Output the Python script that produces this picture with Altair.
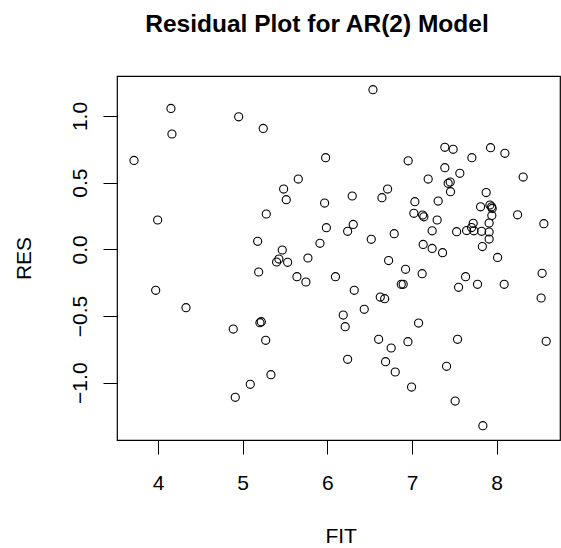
import altair as alt
import pandas as pd

fit = [3.717, 3.996, 3.973, 4.153, 4.165, 4.331, 4.953, 4.889, 4.913, 5.090,
       5.177, 5.189, 5.204, 5.220, 5.243, 5.272, 5.279, 5.334, 5.401, 5.428,
       5.468, 5.484, 5.515, 5.531, 5.657, 5.641, 5.747, 5.771, 5.913, 5.968,
       5.980, 5.989, 6.096, 6.188, 6.211, 6.240, 6.240, 6.306, 6.294, 6.318,
       6.436, 6.519, 6.539, 6.606, 6.625, 6.677, 6.645, 6.712, 6.688, 6.724,
       6.754, 6.790, 6.802, 6.873, 6.896, 6.924, 6.952, 6.955, 6.995, 7.022,
       7.034, 7.078, 7.120, 7.125, 7.140, 7.132, 7.191, 7.238, 7.238, 7.297,
       7.309, 7.361, 7.388, 7.388, 7.408, 7.427, 7.451, 7.455, 7.486, 7.510,
       7.527, 7.538, 7.550, 7.565, 7.633, 7.645, 7.704, 7.723, 7.731, 7.707,
       7.774, 7.810, 7.822, 7.831, 7.837, 7.876, 7.911, 7.911, 7.911, 7.920,
       7.940, 7.947, 7.943, 7.928, 8.011, 8.089, 8.097, 8.247, 8.313, 8.525,
       8.537, 8.557, 8.585]

res = [0.667, 0.220, -0.307, 1.057, 0.865, -0.438, 0.994, -0.598, -1.110, -1.012,
       0.060, -0.170, -0.550, -0.543, 0.907, -0.682, 0.265, -0.940, -0.095, -0.073,
       -0.005, 0.452, 0.372, -0.097, 0.527, -0.205, -0.245, -0.065, 0.045, 0.347,
       0.687, 0.162, -0.205, -0.493, -0.580, 0.135, -0.825, 0.187, 0.400, -0.307,
       -0.450, 0.075, 1.197, -0.675, -0.358, -0.370, 0.387, 0.452, -0.843, -0.084,
       -0.740, 0.117, -0.920, -0.262, -0.262, -0.150, -0.693, 0.664, -1.033, 0.270,
       0.357, -0.553, -0.183, 0.257, 0.244, 0.037, 0.527, 0.139, 0.007, 0.220,
       0.362, -0.025, 0.765, 0.612, -0.877, 0.495, 0.505, 0.432, 0.750, -1.138,
       0.132, -0.675, -0.285, 0.570, -0.205, 0.141, 0.163, 0.195, 0.139, 0.687,
       -0.262, 0.319, 0.135, 0.021, -1.323, 0.426, 0.197, 0.130, 0.077, 0.332,
       0.319, 0.307, 0.253, 0.762, -0.061, -0.262, 0.720, 0.259, 0.542, -0.365,
       -0.180, 0.192, -0.690]

x_ticks = [4, 5, 6, 7, 8]
y_ticks = [-1.0, -0.5, 0.0, 0.5, 1.0]

df = pd.DataFrame({"FIT": fit, "RES": res})

FONT = "Liberation Sans"

x_axis = alt.Axis(
    values=x_ticks, format="d", title="FIT", domain=False, grid=False,
    ticks=True, tickSize=14, tickColor="black", tickWidth=1,
    labelFont=FONT, labelFontSize=21, labelColor="black",
    labelPadding=35.3, labelBaseline="alphabetic", labelAlign="center",
    labelFlush=False, labelOverlap=False,
    titleFont=FONT, titleFontSize=21, titleFontWeight="normal", titleColor="black",
    titleX=223.7, titleY=102.6, titleBaseline="alphabetic", titleAlign="center",
)

y_axis = alt.Axis(
    values=y_ticks, format=".1f", title="RES", domain=False, grid=False,
    ticks=True, tickSize=14, tickColor="black", tickWidth=1,
    labelFont=FONT, labelFontSize=21, labelColor="black",
    labelAngle=270, labelPadding=16.3, labelBaseline="alphabetic", labelAlign="center",
    labelFlush=False, labelOverlap=False,
    titleFont=FONT, titleFontSize=21, titleFontWeight="normal", titleColor="black",
    titleAngle=270, titleX=-87, titleY=182, titleBaseline="alphabetic", titleAlign="center",
)

chart = alt.Chart(df).mark_point(
    shape="circle", filled=False, color="black", size=66, strokeWidth=1.1, opacity=1
).encode(
    x=alt.X("FIT:Q", scale=alt.Scale(domain=[3.516, 8.748], nice=False, zero=False), axis=x_axis),
    y=alt.Y("RES:Q", scale=alt.Scale(domain=[-1.430, 1.300], nice=False, zero=False), axis=y_axis),
).properties(
    width=443,
    height=364,
    background="white",
    title=alt.TitleParams(
        text="Residual Plot for AR(2) Model", font=FONT, fontSize=24.5, fontWeight="bold",
        color="black", anchor="middle", frame="group", dx=-21.5, offset=19.6,
        baseline="alphabetic",
    ),
    padding={"left": 117, "top": 76, "right": 1, "bottom": 108},
    autosize=alt.AutoSizeParams(type="none"),
).configure_view(
    stroke="black", strokeWidth=1.2
)

chart.save("out.html", embed_options={"renderer": "svg", "actions": False})
